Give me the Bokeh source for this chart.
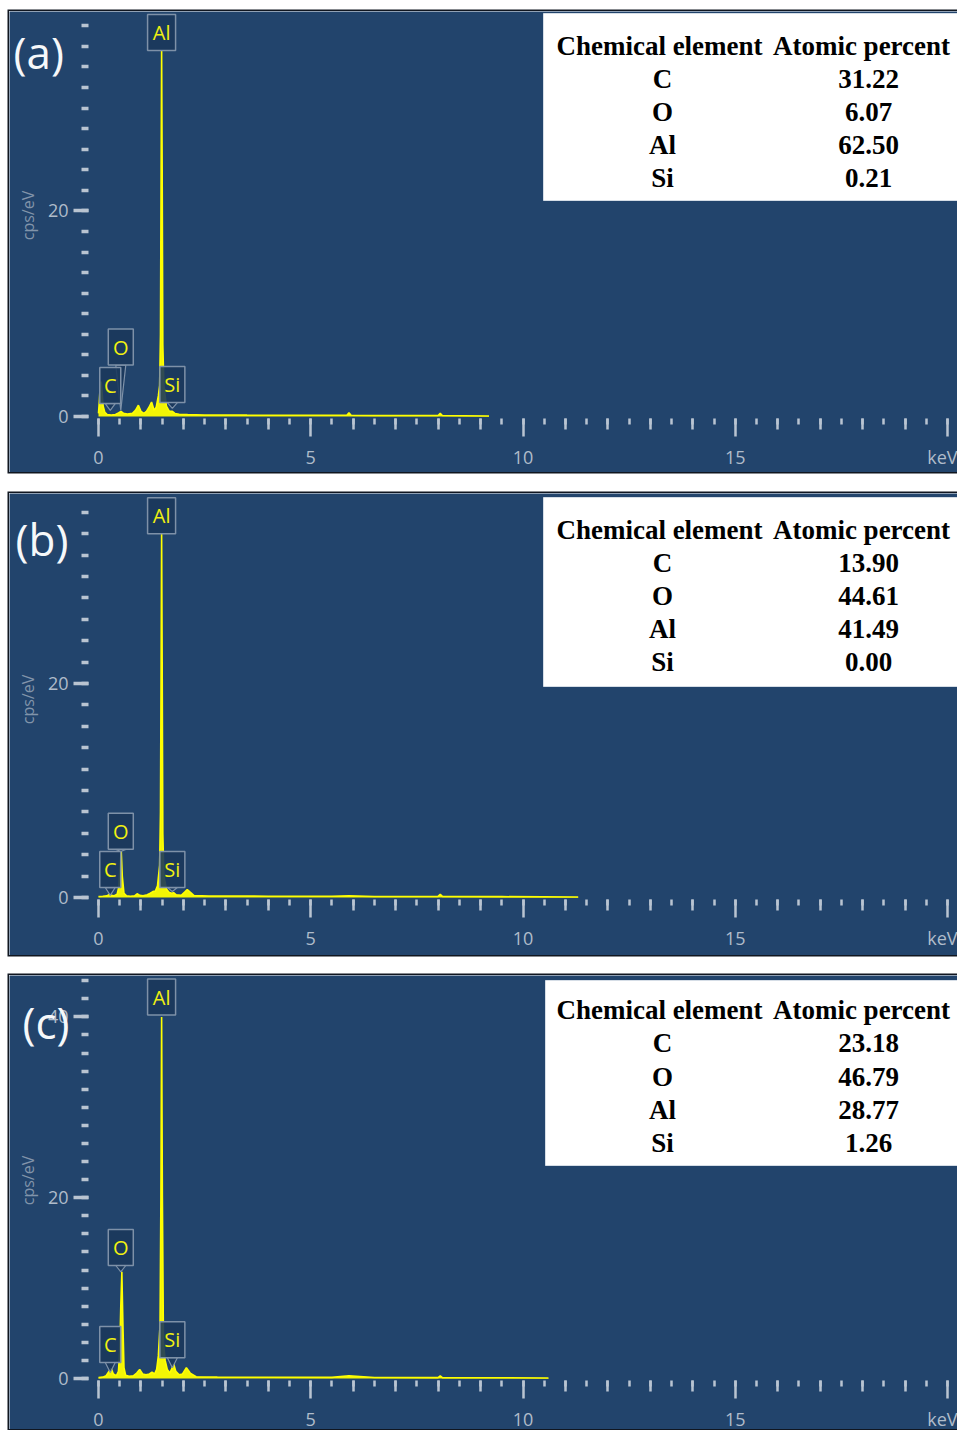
import math
from bokeh.plotting import figure
from bokeh.models import FixedTicker, LinearAxis, Range1d, Label, Spacer
from bokeh.layouts import column, row
from bokeh.core.properties import value
from bokeh.embed import file_html
from bokeh.resources import INLINE

# ---------------- data ----------------
elements = ["C", "O", "Al", "Si"]
line_energy = [0.277, 0.525, 1.486, 1.740]
panel_letters = ["(a)", "(b)", "(c)"]
y_title = "cps/eV"

atomic_a = [31.22, 6.07, 62.50, 0.21]
atomic_b = [13.90, 44.61, 41.49, 0.00]
atomic_c = [23.18, 46.79, 28.77, 1.26]

energy_a = [0.00, 0.02, 0.04, 0.06, 0.08, 0.11, 0.15, 0.20, 0.30, 0.40,
            0.47, 0.53, 0.59, 0.68, 0.80, 0.87, 0.94, 1.00, 1.07, 1.13,
            1.19, 1.25, 1.31, 1.36, 1.41, 1.44, 1.46, 1.475, 1.487, 1.50,
            1.515, 1.54, 1.60, 1.67, 1.74, 1.80, 1.90, 2.10, 2.50, 3.50,
            4.50, 5.50, 5.85, 5.90, 5.95, 6.50, 7.50, 8.00, 8.05, 8.10,
            8.60, 9.20]
counts_a = [0.3, 1.5, 3.0, 3.4, 2.6, 1.0, 0.4, 0.2, 0.15, 0.2,
            0.35, 0.5, 0.3, 0.25, 0.3, 0.6, 1.1, 0.5, 0.3, 0.5,
            0.9, 1.4, 0.6, 0.9, 2.0, 3.0, 8.0, 24.0, 35.6, 24.0,
            7.0, 3.0, 1.0, 0.5, 0.5, 0.3, 0.22, 0.18, 0.15, 0.13,
            0.12, 0.12, 0.12, 0.35, 0.12, 0.1, 0.1, 0.1, 0.3, 0.1,
            0.08, 0.05]

energy_b = [0.00, 0.10, 0.20, 0.26, 0.30, 0.36, 0.44, 0.48, 0.51, 0.535,
            0.56, 0.60, 0.66, 0.75, 0.85, 0.91, 0.97, 1.05, 1.15, 1.22,
            1.28, 1.34, 1.39, 1.44, 1.46, 1.475, 1.487, 1.50, 1.515, 1.54,
            1.60, 1.66, 1.72, 1.77, 1.83, 1.95, 2.03, 2.09, 2.16, 2.25,
            2.60, 4.00, 5.50, 5.90, 6.50, 8.00, 8.05, 8.10, 9.50, 11.30]
counts_b = [0.1, 0.12, 0.15, 0.3, 0.2, 0.15, 0.3, 1.0, 3.0, 4.4,
            2.0, 0.4, 0.15, 0.12, 0.15, 0.35, 0.2, 0.15, 0.25, 0.4,
            0.55, 0.6, 1.1, 3.0, 8.0, 22.0, 34.0, 22.0, 6.0, 2.0,
            0.8, 0.5, 0.4, 0.45, 0.25, 0.2, 0.5, 0.75, 0.5, 0.18,
            0.14, 0.12, 0.11, 0.15, 0.1, 0.1, 0.3, 0.1, 0.08, 0.05]

energy_c = [0.00, 0.10, 0.18, 0.25, 0.30, 0.35, 0.42, 0.47, 0.50, 0.525,
            0.55, 0.575, 0.60, 0.64, 0.72, 0.82, 0.90, 0.97, 1.04, 1.12,
            1.20, 1.26, 1.32, 1.37, 1.41, 1.45, 1.47, 1.487, 1.505, 1.53,
            1.57, 1.62, 1.68, 1.72, 1.77, 1.82, 1.90, 1.98, 2.07, 2.16,
            2.30, 2.80, 4.00, 5.50, 5.90, 6.50, 8.00, 8.05, 8.10, 9.50,
            10.60]
counts_c = [0.1, 0.15, 0.3, 0.8, 1.1, 0.5, 0.3, 0.8, 3.0, 8.0,
            11.8, 6.0, 1.2, 0.35, 0.25, 0.3, 0.6, 1.0, 0.5, 0.4,
            0.5, 0.7, 0.5, 1.0, 2.5, 6.0, 20.0, 40.0, 20.0, 4.0,
            2.0, 1.0, 0.6, 1.0, 1.6, 0.8, 0.4, 0.5, 1.2, 0.6,
            0.2, 0.15, 0.13, 0.12, 0.3, 0.11, 0.1, 0.3, 0.1, 0.08,
            0.05]

# element marker boxes: bottom of the box and tip of its pointer (cps/eV)
label_bottom_a = [1.26, 5.0, 35.6, 1.36]
label_tip_a = [0.6, 0.6, 35.6, 0.8]
label_bottom_b = [0.93, 4.5, 34.0, 0.93]
label_tip_b = [0.2, 4.3, 34.0, 0.56]
label_bottom_c = [1.77, 12.5, 40.2, 2.3]
label_tip_c = [0.66, 11.8, 40.2, 1.2]

x_major = [0, 5, 10, 15, 20]
x_labels = {0: "0", 5: "5", 10: "10", 15: "15", 20: "keV"}
x_mid = [1, 2, 3, 4, 6, 7, 8, 9, 11, 12, 13, 14, 16, 17, 18, 19]
x_minor = [i * 0.5 for i in range(41)]
y_major = [0, 20, 40]
y_minor = list(range(0, 46, 2))

# ---------------- layout / style constants (page pixels) ----------------
LEFT = 9                 # page x of panel left edge
RIGHT = 957
FIG_W = RIGHT - LEFT
ZERO_X = 98              # page x of 0 keV
PPK = 42.45              # px per keV
YAXIS_X = 88             # page x where the y ticks start
BG = "#22446c"
TICK_C = "#b9c4d1"
LABEL_C = "#b0bcca"
YEL = "#ffff00"
UI_FONT = "Open Sans"


def xd(px):
    return (px - ZERO_X) / PPK


def make_panel(letter, energy, counts, atomic, lab_bottom, lab_tip,
               top, fig_h, zero_y, ppu, rows_y, box_y, box_left, letter_xy,
               ytitle_y):
    def yd(py):
        return (zero_y - py) / ppu

    y0, y1 = yd(top + fig_h), yd(top)
    x0, x1 = xd(LEFT), xd(RIGHT)

    p = figure(width=FIG_W, height=fig_h, x_range=Range1d(x0, x1),
               y_range=Range1d(y0, y1), output_backend="svg",
               toolbar_location=None, x_axis_type=None, y_axis_type=None,
               min_border=0)
    p.background_fill_color = BG
    p.border_fill_color = BG
    p.outline_line_color = None
    p.styles = {"box-shadow": "0 0 0 1.5px #101620"}

    x_loc = yd(zero_y + 2)
    # x axis: long ticks every 5 keV + half-keV small ticks
    xa = LinearAxis(ticker=FixedTicker(ticks=x_major, minor_ticks=x_minor),
                    major_label_overrides=x_labels, fixed_location=x_loc)
    xa.axis_line_color = None
    xa.major_tick_line_color = TICK_C
    xa.minor_tick_line_color = TICK_C
    xa.major_tick_line_width = 2.5
    xa.minor_tick_line_width = 2.5
    xa.major_tick_in = 0
    xa.minor_tick_in = 0
    xa.major_tick_out = 18
    xa.minor_tick_out = 6
    xa.major_label_standoff = 8
    xa.major_label_text_color = LABEL_C
    xa.major_label_text_font = UI_FONT
    xa.major_label_text_font_size = "18px"
    p.add_layout(xa, "below")

    # medium ticks at whole keV
    xb = LinearAxis(ticker=FixedTicker(ticks=x_mid, minor_ticks=[]),
                    fixed_location=x_loc)
    xb.axis_line_color = None
    xb.major_tick_line_color = TICK_C
    xb.major_tick_line_width = 2.5
    xb.major_tick_in = 0
    xb.major_tick_out = 11
    xb.minor_tick_line_color = None
    xb.major_label_text_font_size = "0px"
    xb.major_label_text_color = None
    p.add_layout(xb, "below")

    ya = LinearAxis(ticker=FixedTicker(ticks=y_major, minor_ticks=y_minor),
                    fixed_location=xd(YAXIS_X))
    ya.axis_line_color = None
    ya.major_tick_line_color = TICK_C
    ya.minor_tick_line_color = TICK_C
    ya.major_tick_line_width = 3.5
    ya.minor_tick_line_width = 3.5
    ya.major_tick_in = 0
    ya.minor_tick_in = 0
    ya.major_tick_out = 15
    ya.minor_tick_out = 7
    ya.major_label_standoff = 5
    ya.major_label_text_color = LABEL_C
    ya.major_label_text_font = UI_FONT
    ya.major_label_text_font_size = "18px"
    p.add_layout(ya, "left")

    p.add_layout(Label(x=xd(27), y=yd(ytitle_y), text=y_title,
                       angle=math.pi / 2, text_color="#8194aa",
                       text_font=UI_FONT, text_font_size="16px",
                       text_align="center", text_baseline="middle"))

    # spectrum
    p.varea(x=energy, y1=0, y2=counts, fill_color=YEL, fill_alpha=0.95)
    p.line(x=energy, y=counts, line_color=YEL, line_width=1.6)

    # element markers
    widths = [21, 25, 28, 25]
    half = 5 / PPK
    for e, b, t in zip(line_energy, lab_bottom, lab_tip):
        if t < b - 0.05:
            p.patch(x=[e - half, e + half, e], y=[b, b, t],
                    fill_color="#1b385c", fill_alpha=0.9,
                    line_color="#7e91a8", line_width=1.2)
    centers = [b + 18 / ppu for b in lab_bottom]
    p.rect(x=line_energy, y=centers, width=widths, height=36,
           width_units="screen", height_units="screen",
           fill_color="#1b385c", fill_alpha=0.9,
           line_color="#7e91a8", line_width=1.5)
    p.text(x=line_energy, y=centers, text=elements, text_color="#f0f010",
           text_font=value(UI_FONT), text_font_size="20px",
           text_align="center", text_baseline="middle")

    # table
    p.quad(left=[xd(box_left)], right=[x1 + 1], top=[yd(box_y[0])],
           bottom=[yd(box_y[1])], fill_color="white",
           line_color="#d5dde6", line_width=1)
    serif = dict(text_font=value("Liberation Serif"), text_font_style="bold",
                 text_font_size="27px", text_color="black",
                 text_align="center", text_baseline="middle")
    p.text(x=[xd(659), xd(861)], y=[yd(rows_y[0])] * 2,
           text=["Chemical element", "Atomic percent"], **serif)
    p.text(x=[xd(662)] * 4, y=[yd(r) for r in rows_y[1:]],
           text=elements, **serif)
    p.text(x=[xd(868)] * 4, y=[yd(r) for r in rows_y[1:]],
           text=[f"{v:.2f}" for v in atomic], **serif)

    # panel letter
    p.add_layout(Label(x=xd(letter_xy[0]), y=yd(letter_xy[1]), text=letter,
                       text_color="#f6f8fa", text_font=UI_FONT,
                       text_font_size="44px", text_baseline="middle",
                       text_align="left"))
    return p


pa = make_panel(panel_letters[0], energy_a, counts_a, atomic_a,
                label_bottom_a, label_tip_a, top=11, fig_h=461, zero_y=416,
                ppu=10.28, rows_y=[45, 78, 111, 144, 177], box_y=[13, 200],
                box_left=543, letter_xy=[13, 51], ytitle_y=215)
pb = make_panel(panel_letters[1], energy_b, counts_b, atomic_b,
                label_bottom_b, label_tip_b, top=493, fig_h=462, zero_y=897,
                ppu=10.7, rows_y=[529, 562, 595, 628, 661], box_y=[497, 686],
                box_left=543, letter_xy=[15, 538], ytitle_y=699)
pc = make_panel(panel_letters[2], energy_c, counts_c, atomic_c,
                label_bottom_c, label_tip_c, top=975, fig_h=454, zero_y=1378,
                ppu=9.04, rows_y=[1009, 1042, 1076, 1109, 1142],
                box_y=[980, 1165], box_left=545, letter_xy=[22, 1021],
                ytitle_y=1180)

panels = column(Spacer(width=FIG_W, height=11), pa,
                Spacer(width=FIG_W, height=21), pb,
                Spacer(width=FIG_W, height=20), pc, spacing=0)
layout = row(Spacer(width=LEFT, height=10), panels, spacing=0)

open("out.html", "w").write(file_html(layout, INLINE))
